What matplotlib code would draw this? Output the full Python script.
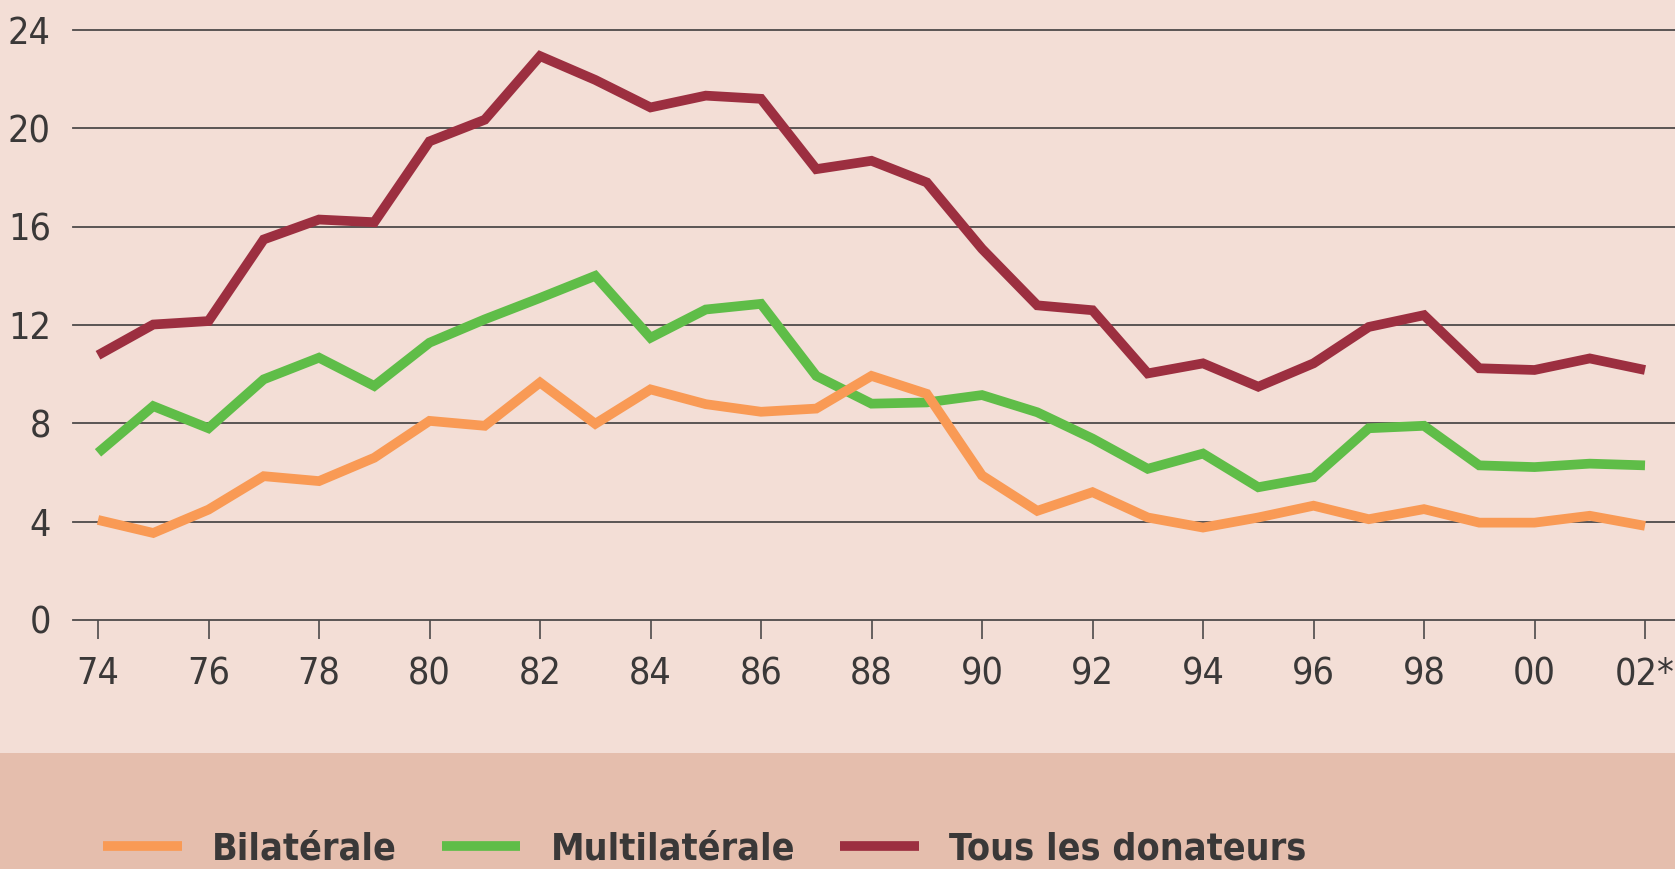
import matplotlib
matplotlib.use("Agg")
import matplotlib.pyplot as plt
from matplotlib import font_manager as fm
from matplotlib.patches import Rectangle

years = list(range(1974, 2003))
bilaterale = [4.07, 3.54, 4.49, 5.85, 5.65, 6.6, 8.1, 7.9, 9.66, 7.98, 9.38, 8.78, 8.47, 8.6,
              9.93, 9.2, 5.88, 4.44, 5.2, 4.17, 3.76, 4.17, 4.65, 4.1, 4.51, 3.96, 3.96, 4.24, 3.83]
multilaterale = [6.8, 8.7, 7.8, 9.79, 10.67, 9.52, 11.28, 12.23, 13.1, 14.0, 11.48, 12.63, 12.86, 9.93,
                 8.8, 8.85, 9.15, 8.45, 7.38, 6.15, 6.77, 5.4, 5.81, 7.8, 7.9, 6.29, 6.22, 6.36, 6.29]
tous = [10.77, 12.02, 12.16, 15.48, 16.29, 16.18, 19.47, 20.35, 22.94, 21.97, 20.85, 21.33, 21.2, 18.34,
        18.68, 17.8, 15.1, 12.8, 12.6, 10.03, 10.44, 9.49, 10.44, 11.92, 12.4, 10.24, 10.17, 10.64, 10.17]
xtick_years = list(range(1974, 2003, 2))
xtick_labels = ["74", "76", "78", "80", "82", "84", "86", "88", "90", "92", "94", "96", "98", "00", "02*"]
yticks = [0, 4, 8, 12, 16, 20, 24]
series_labels = ["Bilatérale", "Multilatérale", "Tous les donateurs"]

names = sorted({f.name for f in fm.fontManager.ttflist})
family = "Liberation Sans Narrow" if "Liberation Sans Narrow" in names else "DejaVu Sans"
plt.rcParams["font.family"] = family
if family == "DejaVu Sans":
    plt.rcParams["font.stretch"] = "condensed"

W, H = 1675, 869
fig = plt.figure(figsize=(W / 100, H / 100), dpi=100)
fig.patch.set_facecolor("#f3ded6")
fig.patches.append(Rectangle((0, 0), 1, (H - 753) / H, transform=fig.transFigure,
                             facecolor="#e5bead", edgecolor="none", zorder=0))

left, right, top, bottom = 73, 1675, 30, 620
ax = fig.add_axes([left / W, (H - bottom) / H, (right - left) / W, (bottom - top) / H])
ax.set_facecolor("none")
x0, x1 = 98, 1645
ppy = (x1 - x0) / 28
ax.set_xlim(1974 - (x0 - left) / ppy, 2002 + (right - x1) / ppy)
ax.set_ylim(0, 24)

for v in yticks:
    ax.axhline(v, color="#4d4a4a", lw=1.3, zorder=1, clip_on=False)

c_or, c_gr, c_rd = "#f99a55", "#5fbd48", "#9c2f40"
lw = 7
l2, = ax.plot(years, multilaterale, color=c_gr, lw=lw, solid_joinstyle="miter", solid_capstyle="butt", zorder=3, label=series_labels[1])
l1, = ax.plot(years, bilaterale, color=c_or, lw=lw, solid_joinstyle="miter", solid_capstyle="butt", zorder=4, label=series_labels[0])
l3, = ax.plot(years, tous, color=c_rd, lw=lw, solid_joinstyle="miter", solid_capstyle="butt", zorder=5, label=series_labels[2])

for s in ax.spines.values():
    s.set_visible(False)
ax.set_xticks(xtick_years)
ax.set_xticklabels(xtick_labels)
ax.set_yticks(yticks)
ax.set_yticklabels([str(v) for v in yticks])
ax.tick_params(axis="x", direction="out", length=14, width=1.2, color="#4d4a4a", pad=12,
               labelsize=27, labelcolor="#3a3838")
ax.tick_params(axis="y", length=0, pad=16, labelsize=27, labelcolor="#3a3838")

leg = fig.legend(handles=[l1, l2, l3], labels=series_labels, loc="center left",
                 bbox_to_anchor=(88 / W, (H - 849) / H), ncol=3, frameon=False,
                 prop={"size": 27, "weight": "bold"}, handlelength=2.1, handletextpad=0.8,
                 columnspacing=1.2, borderaxespad=0)
for t in leg.get_texts():
    t.set_color("#3a3838")

fig.savefig("out.png", dpi=100, facecolor=fig.get_facecolor())
